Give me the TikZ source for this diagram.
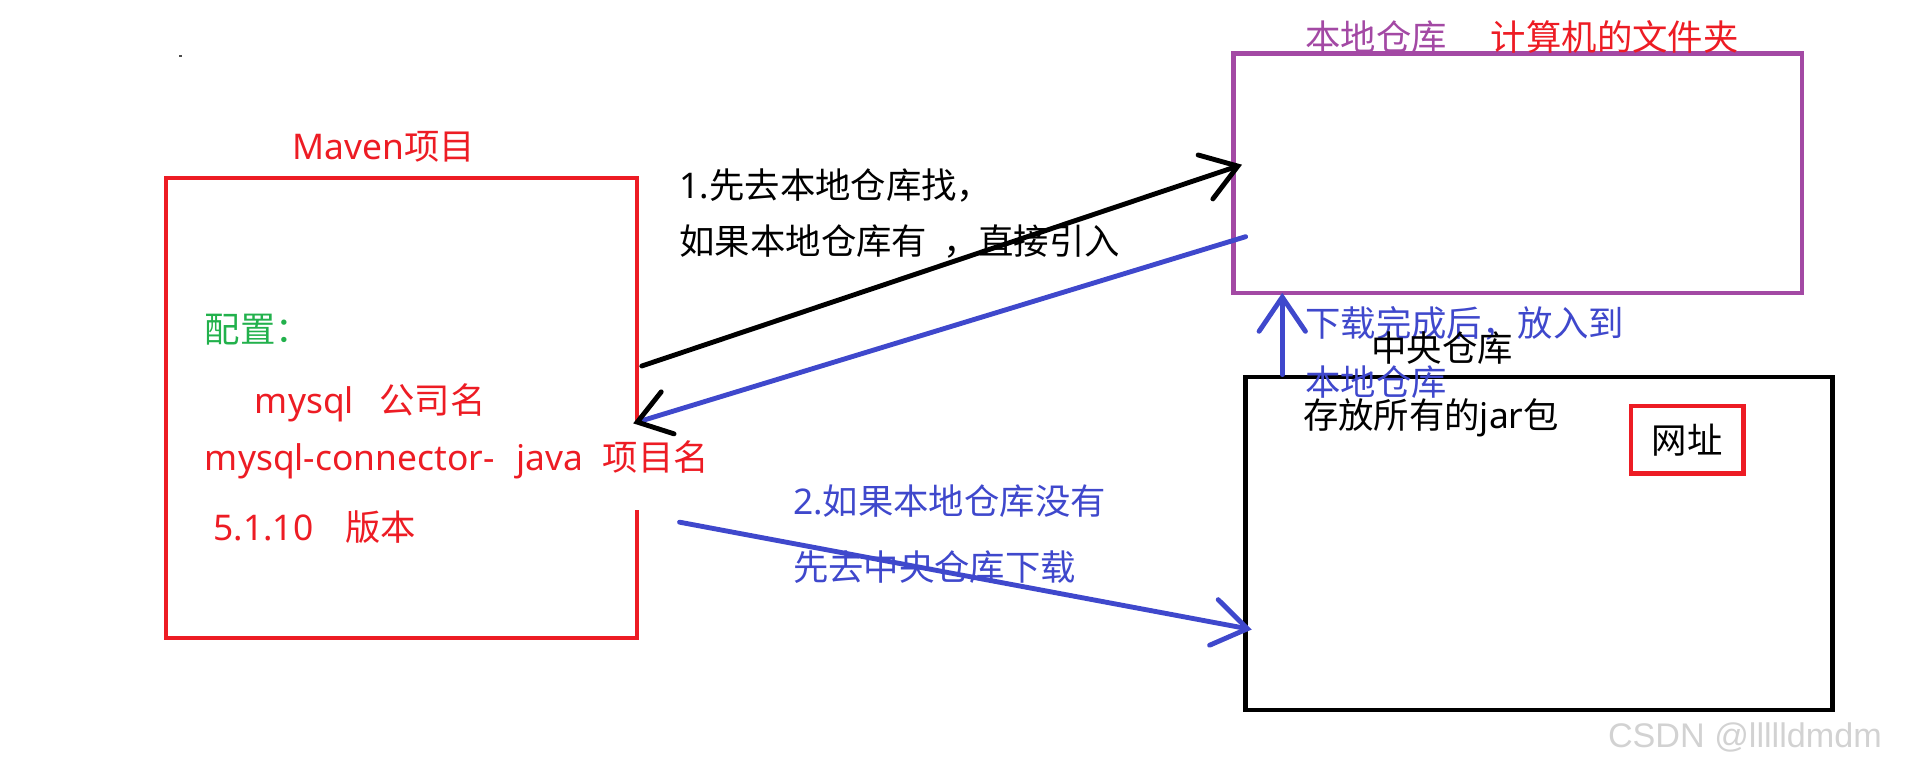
\documentclass[tikz,border=0pt]{standalone}
\usepackage{fontspec}
\setmainfont{Noto Sans}
\newfontfamily\cj{Noto Sans CJK SC}
\newfontfamily\wmfont{Liberation Sans}
\usetikzlibrary{arrows.meta}
\definecolor{pred}{RGB}{237,28,36}
\definecolor{ppur}{RGB}{163,73,164}
\definecolor{pblu}{RGB}{63,72,204}
\definecolor{pgrn}{RGB}{34,177,76}
\begin{document}
\begin{tikzpicture}[x=1pt,y=-1pt,
  every node/.style={inner sep=0pt,outer sep=0pt},
  txt/.style={anchor=base west,font=\fontsize{29}{31}\selectfont\cj},
  boxline/.style={line width=3.6pt},
  hand/.style={line width=4pt,line cap=round,-{Straight Barb[length=28pt,width=38pt,line cap=round]}},
  handk/.style={line width=4pt,line cap=round,-{Straight Barb[length=26pt,width=36pt,line cap=round,color=black]}}
]
\useasboundingbox (0,0) rectangle (1568,629);
\fill[black!70] (147,45) rectangle (149,47);
% boxes
\node[draw=ppur,boxline,minimum width=466pt,minimum height=196pt] (local) at (1244,142) {};
\node[draw=black,boxline,minimum width=481pt,minimum height=273pt] (central) at (1261.5,445.5) {};
\node[minimum width=386pt,minimum height=377pt] (maven) at (329,334.5) {};
\draw[pred,boxline] ([yshift=-199pt]maven.north east) -- (maven.north east) -- (maven.north west)
  -- (maven.south west) -- (maven.south east) -- ([yshift=105pt]maven.south east);
\node[draw=pred,boxline,minimum width=92pt,minimum height=55pt,font=\fontsize{29}{31}\selectfont\cj] (url) at (1383,360.5) {网址};
% texts in Maven box
\node[txt,text=pred] (mavent) at (240,131) {\rmfamily Maven\cj 项目};
\node[txt,text=pgrn] (cfg) at (168,281) {配置：};
\node[txt,text=pred] (l1) at (209,339) {\rmfamily mysql\hspace{21pt}\cj 公司名};
\node[txt,text=pred] (l2) at (168,386) {\rmfamily mysql-connector-\hspace{18pt}java\hspace{16pt}\cj 项目名};
\node[txt,text=pred] (l3) at (175,443) {\rmfamily 5.1.10\hspace{26pt}\cj 版本};
% arrow texts
\node[txt] (t1) at (557,163) {\rmfamily 1.\cj 先去本地仓库找，};
\node[txt] (t2) at (557,209) {如果本地仓库有\hspace{13pt}，直接引入};
\node[txt,text=pblu] (t3) at (650,422) {\rmfamily 2.\cj 如果本地仓库没有};
\node[txt,text=pblu] (t4) at (650,476) {先去中央仓库下载};
% local repo label
\node[txt] (loct) at (1070,41) {\color{ppur}本地仓库\hspace{36pt}\color{pred}计算机的文件夹};
% download texts
\node[txt,text=pblu] (d1) at (1070,276) {下载完成后，放入到};
\node[txt,text=pblu] (d2) at (1070,324) {本地仓库};
\node[txt] (cname) at (1124,296) {中央仓库};
\node[txt] (cjar) at (1068,351) {存放所有的\rmfamily jar\cj 包};
% arrows
\coordinate (a1s) at (526,300); \coordinate (a1e) at (1018,135);
\coordinate (a2s) at (1021,194); \coordinate (a2e) at (519,347);
\coordinate (a3s) at (557,428); \coordinate (a3e) at (1026,516);
\coordinate (a4s) at (1051,307); \coordinate (a4e) at (1051,240);
\draw[hand,black] (a1s) -- (a1e);
\draw[handk,pblu] (a2s) -- (a2e);
\draw[hand,pblu] (a3s) -- (a3e);
\draw[hand,pblu] (a4s) -- (a4e);
% watermark
\node[anchor=base west,font=\fontsize{28}{30}\selectfont\wmfont,text=gray!35] (wm) at (1318,613) {CSDN @llllldmdm};
\end{tikzpicture}
\end{document}
